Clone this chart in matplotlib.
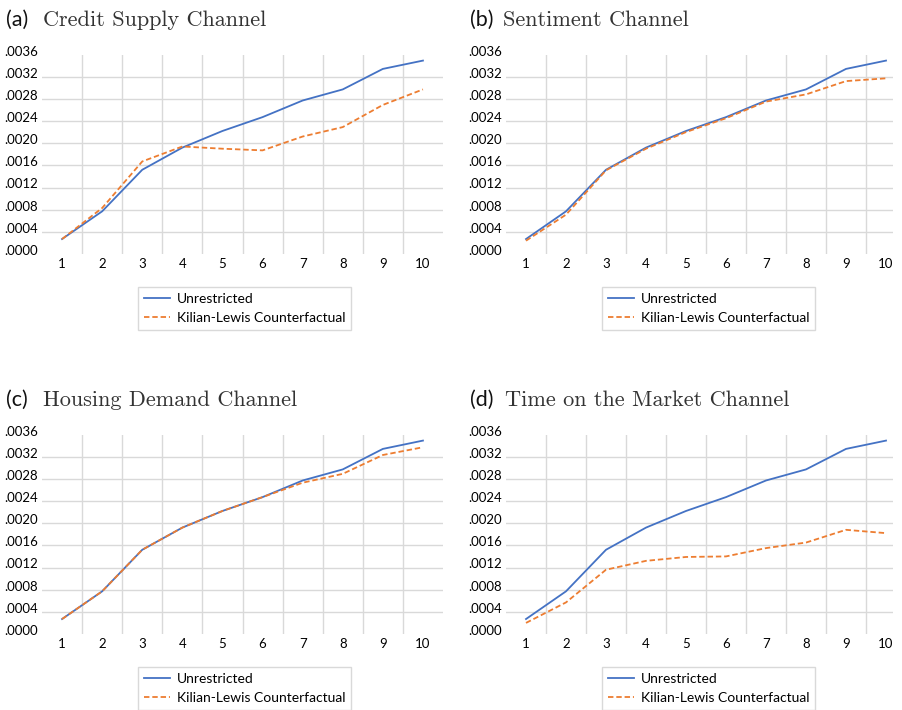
import matplotlib
matplotlib.use("Agg")
import matplotlib.pyplot as plt
from matplotlib.transforms import ScaledTranslation

horizons = [1, 2, 3, 4, 5, 6, 7, 8, 9, 10]

unrestricted = [0.00027, 0.00077, 0.00152, 0.00192, 0.00222, 0.00247, 0.00277, 0.00297, 0.00334, 0.00349]

cf_credit = [0.00027, 0.00083, 0.00167, 0.00194, 0.00190, 0.00187, 0.00212, 0.00229, 0.00269, 0.00297]
cf_sentiment = [0.00024, 0.00071, 0.00151, 0.00190, 0.00220, 0.00245, 0.00275, 0.00288, 0.00312, 0.00317]
cf_housing = [0.00027, 0.00077, 0.00152, 0.00192, 0.00222, 0.00247, 0.00273, 0.00289, 0.00323, 0.00337]
cf_tom = [0.00020, 0.00057, 0.00116, 0.00132, 0.00139, 0.00140, 0.00155, 0.00165, 0.00188, 0.00182]

yticks = [0.0, 0.0004, 0.0008, 0.0012, 0.0016, 0.0020, 0.0024, 0.0028, 0.0032, 0.0036]
ytick_labels = ['.0000', '.0004', '.0008', '.0012', '.0016', '.0020', '.0024', '.0028', '.0032', '.0036']

panel_tags = ['(a)', '(b)', '(c)', '(d)']
panel_names = ['Credit Supply Channel', 'Sentiment Channel',
               'Housing Demand Channel', 'Time on the Market Channel']
counterfactuals = [cf_credit, cf_sentiment, cf_housing, cf_tom]

W, H = 903, 710
BLUE = '#4472C4'
ORANGE = '#ED7D31'
GRID = '#D9D9D9'
SANS = ['Lato', 'DejaVu Sans']

fig = plt.figure(figsize=(W / 100, H / 100), dpi=100)

# pixel boxes: left, right, top, bottom, tag x, name x, title baseline, legend x, legend y
boxes = [
    (42, 443, 54.5, 254, 6, 43, 26, 138, 287),
    (506, 893, 54.5, 254, 470, 503, 26, 602, 287),
    (42, 443, 434.5, 634, 6, 43, 406, 138, 667),
    (506, 893, 434.5, 634, 470, 505, 406, 602, 667),
]

for i, (l, r, t, b, tx, nx, ty, lx, ly) in enumerate(boxes):
    ax = fig.add_axes([l / W, 1 - b / H, (r - l) / W, (b - t) / H])
    xmax = 10.5 if r < 450 else 0.5 + (r - l) / 40.0
    ax.set_xlim(0.5, xmax)
    ax.set_ylim(0, 0.0036)

    ax.plot(horizons, unrestricted, color=BLUE, lw=1.3, label='Unrestricted', zorder=3)
    ax.plot(horizons, counterfactuals[i], color=ORANGE, lw=1.3,
            linestyle=(0, (3, 1.6)), label='Kilian-Lewis Counterfactual', zorder=3)

    # category axis: gridlines sit between the horizons
    ax.set_xticks(horizons)
    ax.set_xticklabels([str(h) for h in horizons], fontsize=9.5, family=SANS)
    ax.set_xticks([h + 0.5 for h in horizons[:-1]], minor=True)
    ax.set_yticks(yticks)
    ax.set_yticklabels(ytick_labels, fontsize=9.5, family=SANS)
    ax.tick_params(axis='both', which='both', length=0)
    ax.tick_params(axis='x', pad=3)
    ax.tick_params(axis='y', pad=3)
    ax.grid(True, which='minor', axis='x', color=GRID, lw=1.0)
    ax.grid(True, which='major', axis='y', color=GRID, lw=1.0)
    ygl = ax.get_ygridlines()
    ygl[0].set_visible(False)
    ygl[-1].set_visible(False)
    ax.set_axisbelow(True)
    for s in ax.spines.values():
        s.set_visible(False)
    for lab in ax.get_yticklabels():
        lab.set_transform(lab.get_transform() + ScaledTranslation(0, 4 / 100, fig.dpi_scale_trans))

    fig.text(tx / W, 1 - ty / H, panel_tags[i], family=SANS, fontsize=15.5, va='baseline',
             color='#111111')
    fig.text(nx / W, 1 - ty / H, panel_names[i], family='cmr10', fontsize=16, va='baseline',
             color='#333333')

    leg = ax.legend(loc='upper left', bbox_to_anchor=(lx / W, 1 - ly / H),
                    bbox_transform=fig.transFigure, borderaxespad=0,
                    prop={'family': SANS, 'size': 10}, handlelength=1.9,
                    handletextpad=0.5, labelspacing=0.55, borderpad=0.4,
                    fancybox=False, framealpha=1)
    leg.get_frame().set_edgecolor(GRID)
    leg.get_frame().set_linewidth(1.0)

fig.savefig('out.png', dpi=100)
